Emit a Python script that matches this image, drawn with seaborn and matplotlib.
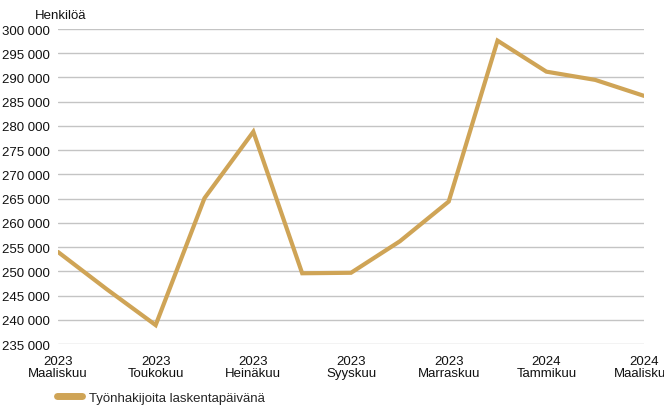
import matplotlib
matplotlib.use("Agg")
import matplotlib.pyplot as plt
import matplotlib.ticker as mticker
import pandas as pd
import seaborn as sns

# ------------------ DATA ------------------
months = ["2023-03", "2023-04", "2023-05", "2023-06", "2023-07", "2023-08", "2023-09",
          "2023-10", "2023-11", "2023-12", "2024-01", "2024-02", "2024-03"]
tick_labels = ["2023\nMaaliskuu", "2023\nToukokuu", "2023\nHeinäkuu", "2023\nSyyskuu",
               "2023\nMarraskuu", "2024\nTammikuu", "2024\nMaaliskuu"]
job_seekers = [254000, 246300, 238900, 265100, 278800, 249600, 249700,
               256200, 264400, 297600, 291200, 289500, 286200]
series_name = "Työnhakijoita laskentapäivänä"

df = pd.DataFrame({"idx": range(len(months)), "month": months, "value": job_seekers})

# ------------------ PLOT ------------------
sns.set_theme(style="white")
plt.rcParams["font.family"] = ["Liberation Sans", "DejaVu Sans"]

fig = plt.figure(figsize=(6.64, 4.10), dpi=100)
ax = fig.add_axes([0.0873, 0.1585, 0.8827, 0.7683])

line_color = "#CFA456"
sns.lineplot(data=df, x="idx", y="value", ax=ax, color=line_color, linewidth=3.0,
             label=series_name, solid_joinstyle="miter")

ax.set_xlim(0, len(months) - 1)
ax.set_ylim(235000, 300000)
ax.yaxis.set_major_locator(mticker.MultipleLocator(5000))
ax.yaxis.set_major_formatter(mticker.FuncFormatter(lambda v, p: f"{int(v):,}".replace(",", " ")))
ax.set_xticks(range(0, len(months), 2))
ax.set_xticklabels(tick_labels, linespacing=1.0)

ax.grid(axis="y", color="#c4c4c4", linewidth=1.0)
ax.set_axisbelow(True)
for s in ax.spines.values():
    s.set_visible(False)
ax.tick_params(axis="y", length=0, pad=6, labelsize=9.5, colors="#111111")
ax.tick_params(axis="x", length=0, pad=8, labelsize=9.5, colors="#111111")
ax.set_xlabel("")
ax.set_ylabel("")

fig.text(0.053, 0.962, "Henkilöä", fontsize=9.5, color="#111111", va="center", ha="left")

# legend below the plot, thick rounded handle
ax.legend(loc="upper left", bbox_to_anchor=(-0.01, -0.135), frameon=False,
          fontsize=9.5, handlelength=1.9, handletextpad=0.5, borderaxespad=0)
leg = ax.get_legend()
for h in leg.get_lines():
    h.set_linewidth(5)
    h.set_solid_capstyle("round")

fig.savefig("out.png", dpi=100)
